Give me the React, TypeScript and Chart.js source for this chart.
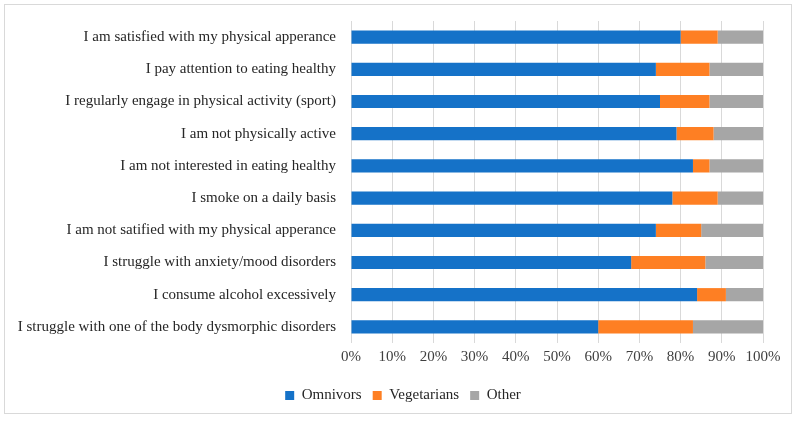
import React, { useEffect, useRef } from "react";
import { Chart, registerables } from "chart.js";

Chart.register(...registerables);

const categories = [
  "I am satisfied with my physical apperance",
  "I pay attention to eating healthy",
  "I regularly engage in physical activity (sport)",
  "I am not physically active",
  "I am not interested in eating healthy",
  "I smoke on a daily basis",
  "I am not satified with my physical apperance",
  "I struggle with anxiety/mood disorders",
  "I consume alcohol excessively",
  "I struggle with one of the body dysmorphic disorders",
];

const omnivors = [80, 74, 75, 79, 83, 78, 74, 68, 84, 60];
const vegetarians = [9, 13, 12, 9, 4, 11, 11, 18, 7, 23];
const other = [11, 13, 13, 12, 13, 11, 15, 14, 9, 17];

const FONT = "'Liberation Serif', serif";

const legendShift = {
  id: "legendShift",
  afterLayout(chart: any) {
    const l = chart.legend;
    if (l) {
      l.left += 19;
      l.right += 19;
    }
  },
};

export default function App() {
  const ref = useRef<HTMLCanvasElement | null>(null);
  useEffect(() => {
    if (!ref.current) return;
    const chart = new Chart(ref.current, {
      type: "bar",
      data: {
        labels: categories,
        datasets: [
          { label: "Omnivors", data: omnivors, backgroundColor: "#1572c8" },
          { label: "Vegetarians", data: vegetarians, backgroundColor: "#fe7f23" },
          { label: "Other", data: other, backgroundColor: "#a6a6a6" },
        ],
      },
      plugins: [legendShift],
      options: {
        indexAxis: "y",
        animation: false,
        responsive: false,
        maintainAspectRatio: false,
        layout: { padding: { top: 8, right: 28, left: 0, bottom: 0 } },
        datasets: { bar: { categoryPercentage: 1, barPercentage: 0.41 } },
        plugins: {
          tooltip: { enabled: false },
          legend: {
            position: "bottom",
            labels: {
              boxWidth: 9,
              boxHeight: 9,
              padding: 11,
              color: "#262626",
              font: { family: FONT, size: 15 },
            },
          },
        },
        scales: {
          x: {
            stacked: true,
            min: 0,
            max: 100,
            ticks: {
              stepSize: 10,
              padding: 5,
              color: "#404040",
              font: { family: FONT, size: 15 },
              callback: (v: any) => v + "%",
            },
            grid: { color: "#d9d9d9", drawTicks: false },
            border: { display: false },
            afterFit: (s: any) => {
              s.height = 34;
            },
          },
          y: {
            stacked: true,
            ticks: {
              padding: 7,
              color: "#262626",
              font: { family: FONT, size: 15 },
              autoSkip: false,
            },
            grid: { display: false },
            border: { display: false },
            afterFit: (s: any) => {
              s.width = 346;
            },
          },
        },
      },
    });
    return () => chart.destroy();
  }, []);
  return (
    <div
      style={{
        position: "absolute",
        left: 4,
        top: 4,
        width: 786,
        height: 408,
        border: "1px solid #d9d9d9",
        background: "#ffffff",
      }}
    >
      <canvas ref={ref} width={786} height={408} style={{ display: "block" }} />
    </div>
  );
}
